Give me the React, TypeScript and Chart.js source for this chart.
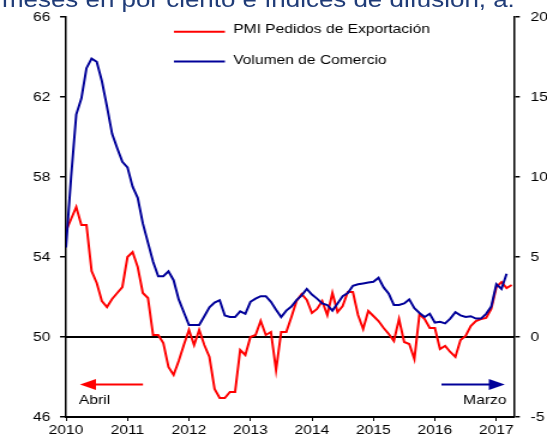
import React, { useEffect, useRef } from 'react';
import { Chart, registerables } from 'chart.js';

Chart.register(...registerables);

// Months counted from January 2010 (index 0)
const yearLabels = ['2010', '2011', '2012', '2013', '2014', '2015', '2016', '2017'];
const leftAxisRange = [46, 66];
const rightAxisRange = [-5, 20];
const seriesNames = ['PMI Pedidos de Exportación', 'Volumen de Comercio'];
const arrowLabels = ['Abril', 'Marzo'];
const titleText = 'meses en por ciento e índices de difusión, a.';

// PMI export orders (left axis), Jan 2010 - Apr 2017
const pmiExportOrders = [
  55.3, 55.9, 56.5, 55.6, 55.6, 53.3, 52.7, 51.8, 51.5, 51.9, 52.2, 52.5,
  54.0, 54.25, 53.5, 52.2, 51.95, 50.1, 50.1, 49.7, 48.5, 48.1, 48.8, 49.6,
  50.35, 49.6, 50.35, 49.6, 49.0, 47.4, 46.95, 46.95, 47.25, 47.25, 49.35, 49.1,
  50.0, 50.1, 50.8, 50.1, 50.25, 48.35, 50.25, 50.25, 51.0, 51.8, 52.15, 51.85,
  51.2, 51.4, 51.8, 51.1, 52.2, 51.25, 51.55, 52.25, 52.25, 51.1, 50.4, 51.3,
  51.05, 50.8, 50.45, 50.15, 49.8, 50.9, 49.75, 49.65, 48.9, 51.15, 50.9, 50.45,
  50.45, 49.4, 49.55, 49.25, 49.0, 49.85, 50.05, 50.55, 50.8, 50.9, 50.95, 51.4,
  52.5, 52.75, 52.45, 52.6,
];

// Trade volume (right axis), Jan 2010 - Mar 2017
const tradeVolume = [
  5.6, 10.0, 13.9, 14.9, 16.8, 17.4, 17.2, 16.0, 14.4, 12.7, 11.8, 10.95,
  10.6, 9.4, 8.7, 7.1, 5.9, 4.7, 3.8, 3.8, 4.1, 3.55, 2.35, 1.55,
  0.75, 0.75, 0.75, 1.3, 1.85, 2.15, 2.3, 1.35, 1.25, 1.25, 1.6, 1.45,
  2.2, 2.4, 2.55, 2.55, 2.2, 1.7, 1.25, 1.65, 1.9, 2.3, 2.6, 3.0,
  2.65, 2.4, 2.1, 2.0, 1.65, 2.1, 2.55, 2.75, 3.2, 3.3, 3.35, 3.4,
  3.45, 3.7, 3.1, 2.7, 2.0, 2.0, 2.1, 2.35, 1.8, 1.5, 1.25, 1.45,
  0.9, 0.95, 0.85, 1.15, 1.55, 1.35, 1.25, 1.3, 1.15, 1.15, 1.45, 1.9,
  3.3, 3.0, 3.95,
];

const RED = '#ff0000';
const BLUE = '#000099';
const FONT = 'Liberation Sans, Arial, sans-serif';
const STRETCH = 1.2;
const W = 547;
const H = 435;
const IW = Math.round(W / STRETCH);

const overlayPlugin = {
  id: 'overlay',
  beforeDatasetsDraw(chart: any) {
    const { ctx, chartArea, scales } = chart;
    const y = scales.y.getPixelForValue(50);
    ctx.save();
    ctx.strokeStyle = '#000';
    ctx.lineWidth = 2;
    ctx.beginPath();
    ctx.moveTo(chartArea.left, y);
    ctx.lineTo(chartArea.right, y);
    ctx.stroke();
    ctx.restore();
  },
  afterDraw(chart: any) {
    const { ctx } = chart;
    ctx.save();
    // legend
    const legend = [
      { color: RED, name: seriesNames[0], ly: 31.7, ty: 29.8 },
      { color: BLUE, name: seriesNames[1], ly: 61.5, ty: 60.5 },
    ];
    ctx.font = `13px ${FONT}`;
    ctx.textBaseline = 'middle';
    ctx.textAlign = 'left';
    legend.forEach((l) => {
      ctx.strokeStyle = l.color;
      ctx.lineWidth = 2;
      ctx.beginPath();
      ctx.moveTo(145, l.ly);
      ctx.lineTo(187.5, l.ly);
      ctx.stroke();
      ctx.fillStyle = '#000';
      ctx.fillText(l.name, 194.4, l.ty);
    });

    // red arrow (left axis)
    const ay = 384.5;
    ctx.strokeStyle = RED;
    ctx.fillStyle = RED;
    ctx.lineWidth = 2;
    ctx.beginPath();
    ctx.moveTo(119.2, ay);
    ctx.lineTo(78, ay);
    ctx.stroke();
    ctx.beginPath();
    ctx.moveTo(66.7, ay);
    ctx.lineTo(80, ay - 5.5);
    ctx.lineTo(80, ay + 5.5);
    ctx.closePath();
    ctx.fill();

    // blue arrow (right axis)
    ctx.strokeStyle = BLUE;
    ctx.fillStyle = BLUE;
    ctx.beginPath();
    ctx.moveTo(368, ay);
    ctx.lineTo(409, ay);
    ctx.stroke();
    ctx.beginPath();
    ctx.moveTo(420.8, ay);
    ctx.lineTo(407.5, ay - 5.5);
    ctx.lineTo(407.5, ay + 5.5);
    ctx.closePath();
    ctx.fill();

    ctx.fillStyle = '#000';
    ctx.textBaseline = 'alphabetic';
    ctx.textAlign = 'left';
    ctx.fillText(arrowLabels[0], 65.8, 404);
    ctx.textAlign = 'right';
    ctx.fillText(arrowLabels[1], 422.2, 404);
    ctx.restore();
  },
};

export default function App() {
  const ref = useRef<HTMLCanvasElement>(null);

  useEffect(() => {
    const canvas = ref.current;
    if (!canvas) return;
    const tickFont = { family: FONT, size: 13 };
    const chart = new Chart(canvas, {
      type: 'line',
      data: {
        datasets: [
          {
            label: seriesNames[0],
            data: pmiExportOrders.map((v, i) => ({ x: i, y: v })),
            borderColor: RED,
            backgroundColor: RED,
            borderWidth: 2,
            pointRadius: 0,
            tension: 0,
            yAxisID: 'y',
            order: 1,
          },
          {
            label: seriesNames[1],
            data: tradeVolume.map((v, i) => ({ x: i, y: v })),
            borderColor: BLUE,
            backgroundColor: BLUE,
            borderWidth: 2,
            pointRadius: 0,
            tension: 0,
            yAxisID: 'y2',
            order: 0,
          },
        ],
      },
      options: {
        responsive: false,
        animation: false,
        devicePixelRatio: 1,
        layout: { padding: { top: 17, left: 0, right: 0, bottom: 0 } },
        plugins: { legend: { display: false }, tooltip: { enabled: false } },
        scales: {
          x: {
            type: 'linear',
            min: 0,
            max: 87.4,
            afterFit: (s: any) => {
              s.height = 18;
            },
            ticks: {
              stepSize: 12,
              includeBounds: false,
              autoSkip: false,
              maxRotation: 0,
              minRotation: 0,
              color: '#000',
              font: tickFont,
              padding: 2,
              callback: (v: any) => yearLabels[Math.round(Number(v) / 12)] ?? '',
            },
            grid: {
              display: true,
              drawOnChartArea: false,
              drawTicks: true,
              tickLength: 4,
              color: '#000',
              lineWidth: 1,
            },
            border: { display: true, color: '#000', width: 2 },
          },
          y: {
            position: 'left',
            min: leftAxisRange[0],
            max: leftAxisRange[1],
            afterFit: (s: any) => {
              s.width = 55;
            },
            ticks: { stepSize: 4, color: '#000', font: tickFont, padding: 8 },
            grid: {
              display: true,
              drawOnChartArea: false,
              drawTicks: true,
              tickLength: 5,
              color: '#000',
              lineWidth: 1.5,
            },
            border: { display: true, color: '#000', width: 1.5 },
          },
          y2: {
            position: 'right',
            min: rightAxisRange[0],
            max: rightAxisRange[1],
            afterFit: (s: any) => {
              s.width = IW - 428.3;
            },
            ticks: { stepSize: 5, color: '#000', font: tickFont, padding: 9 },
            grid: {
              display: true,
              drawOnChartArea: false,
              drawTicks: true,
              tickLength: 5,
              color: '#000',
              lineWidth: 1.5,
            },
            border: { display: true, color: '#000', width: 1.5 },
          },
        },
      },
      plugins: [overlayPlugin],
    } as any);
    return () => chart.destroy();
  }, []);

  return (
    <div
      style={{
        position: 'fixed',
        left: 0,
        top: 0,
        width: W,
        height: H,
        overflow: 'hidden',
        background: '#fff',
      }}
    >
      <canvas
        ref={ref}
        width={IW}
        height={H}
        style={{ width: `${W}px`, height: `${H}px`, display: 'block' }}
      />
      <div
        style={{
          position: 'absolute',
          left: 2,
          top: -11,
          fontFamily: FONT,
          fontSize: '21.6px',
          lineHeight: '21.6px',
          color: '#203c78',
          whiteSpace: 'nowrap',
          transform: `scaleX(${STRETCH})`,
          transformOrigin: 'left top',
        }}
      >
        {titleText}
      </div>
    </div>
  );
}
